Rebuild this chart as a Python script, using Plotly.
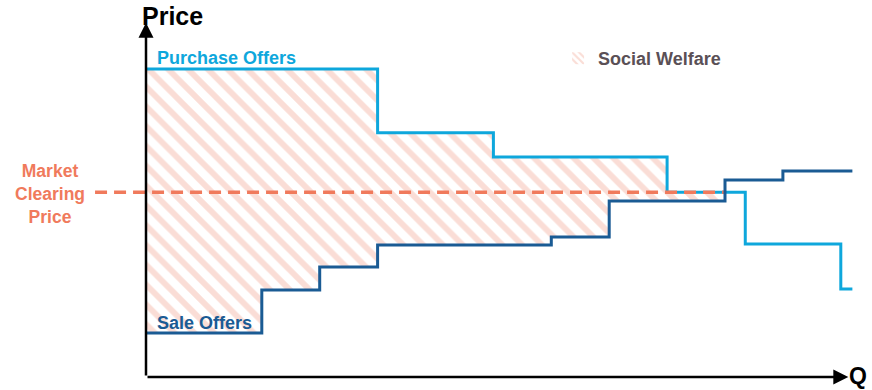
import plotly.graph_objects as go

# Step schedules: quantity breakpoints and the price held on each step
purchase_q = [0, 4, 6, 9, 10.35, 12, 12.2]
purchase_p = [14.0, 11.1, 10.0, 8.4, 6.05, 4.0]

sale_q = [0, 2, 3, 4, 7, 8, 10, 11, 12.2]
sale_p = [2.0, 3.95, 5.0, 6.0, 6.36, 8.0, 8.95, 9.36]

clearing_price = 8.4
clearing_q = 10.0

LIGHT_BLUE = "#0ea7dc"
DARK_BLUE = "#1a5b94"
ORANGE = "#f07a5c"
HATCH = "#f5bcad"
FONT = "Liberation Sans, Arial, sans-serif"


def step_path(qs, ps):
    xs, ys = [], []
    for i, p in enumerate(ps):
        xs += [qs[i], qs[i + 1]]
        ys += [p, p]
    return xs, ys


def clip_steps(qs, ps, q_max):
    out_q, out_p = [qs[0]], []
    for i, p in enumerate(ps):
        if qs[i] >= q_max:
            break
        out_p.append(p)
        out_q.append(min(qs[i + 1], q_max))
    return out_q, out_p


px_, py_ = step_path(purchase_q, purchase_p)
sx_, sy_ = step_path(sale_q, sale_p)

# Surplus region: between the demand and supply steps up to the clearing quantity
cq_p, cp_p = clip_steps(purchase_q, purchase_p, clearing_q)
cq_s, cp_s = clip_steps(sale_q, sale_p, clearing_q)
ax_, ay_ = step_path(cq_p, cp_p)
bx_, by_ = step_path(cq_s, cp_s)
welfare_x = ax_ + bx_[::-1] + [ax_[0]]
welfare_y = ay_ + by_[::-1] + [ay_[0]]

fig = go.Figure()

fig.add_trace(go.Scatter(
    x=welfare_x, y=welfare_y, mode="lines", line=dict(width=0),
    fill="toself", fillcolor="rgba(0,0,0,0)",
    fillpattern=dict(shape="\\", fgcolor=HATCH, bgcolor="rgba(0,0,0,0)",
                     size=14, solidity=0.42),
    showlegend=False, hoverinfo="skip",
))

# Legend entry for the hatched surplus area
fig.add_trace(go.Bar(
    x=[None], y=[None], name="<b>Social Welfare</b>",
    marker=dict(color="rgba(0,0,0,0)", line=dict(width=0),
                pattern=dict(shape="\\", fgcolor=HATCH, bgcolor="rgba(0,0,0,0)",
                             size=6, solidity=0.45)),
    showlegend=True, hoverinfo="skip",
))

fig.add_trace(go.Scatter(
    x=px_, y=py_, mode="lines", line=dict(color=LIGHT_BLUE, width=3),
    showlegend=False, hoverinfo="skip",
))

fig.add_trace(go.Scatter(
    x=[-0.88, clearing_q], y=[clearing_price, clearing_price], mode="lines",
    line=dict(color=ORANGE, width=3.5, dash="12px,7px"),
    showlegend=False, hoverinfo="skip",
))

fig.add_trace(go.Scatter(
    x=sx_, y=sy_, mode="lines", line=dict(color=DARK_BLUE, width=3),
    showlegend=False, hoverinfo="skip",
))

# Axes drawn as arrows from the origin
fig.add_annotation(x=0, y=16.1, ax=0, ay=0, xref="x", yref="y", axref="x", ayref="y",
                   text="", showarrow=True, arrowhead=2, arrowsize=1.2,
                   arrowwidth=2.5, arrowcolor="black")
fig.add_annotation(x=12.13, y=0, ax=0, ay=0, xref="x", yref="y", axref="x", ayref="y",
                   text="", showarrow=True, arrowhead=2, arrowsize=1.2,
                   arrowwidth=2.5, arrowcolor="black")

fig.add_annotation(x=-0.11, y=16.4, xref="x", yref="y", text="<b>Price</b>",
                   showarrow=False, xanchor="left", yanchor="middle",
                   font=dict(family=FONT, size=25, color="black"))
fig.add_annotation(x=869 / 872, y=0.05, xref="paper", yref="y", text="<b>Q</b>",
                   showarrow=False, xanchor="right", yanchor="middle",
                   font=dict(family=FONT, size=23, color="black"))
fig.add_annotation(x=0.15, y=14.5, xref="x", yref="y", text="<b>Purchase Offers</b>",
                   showarrow=False, xanchor="left", yanchor="middle",
                   font=dict(family=FONT, size=18, color=LIGHT_BLUE))
fig.add_annotation(x=0.15, y=2.45, xref="x", yref="y", text="<b>Sale Offers</b>",
                   showarrow=False, xanchor="left", yanchor="middle",
                   font=dict(family=FONT, size=18, color=DARK_BLUE))
fig.add_annotation(x=-1.66, y=8.3, xref="x", yref="y",
                   text="<b>Market<br>Clearing<br>Price</b>",
                   showarrow=False, xanchor="center", yanchor="middle",
                   font=dict(family=FONT, size=17.5, color=ORANGE))

fig.update_layout(
    width=872, height=390,
    margin=dict(l=0, r=0, t=0, b=0),
    paper_bgcolor="white", plot_bgcolor="white",
    xaxis=dict(range=[-146 / 57.9, 726 / 57.9], visible=False, fixedrange=True),
    yaxis=dict(range=[-13 / 22, 377 / 22], visible=False, fixedrange=True),
    legend=dict(x=0.64, y=0.85, xanchor="left", yanchor="middle",
                bgcolor="rgba(0,0,0,0)",
                font=dict(family=FONT, size=18, color="#5a5056"),
                itemwidth=30),
    showlegend=True,
)

fig.write_html("out.html")
